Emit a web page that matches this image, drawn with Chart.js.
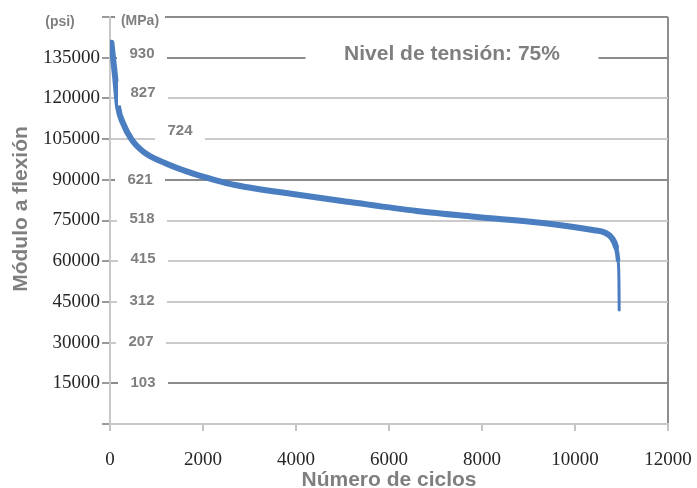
<!DOCTYPE html>
<html>
<head>
<meta charset="utf-8">
<script src="https://cdn.jsdelivr.net/npm/chart.js@4"></script>
<style>
  html, body { margin: 0; padding: 0; background: #fff; }
  #wrap { width: 697px; height: 488px; position: relative; }
</style>
</head>
<body>
<div id="wrap"><canvas id="fatigueChart"></canvas></div>
<script>
// flexural modulus (psi) vs. number of cycles
const cycles = [30, 110, 175, 280, 470, 750, 1180, 1680, 2260, 2690, 4080, 5160, 6600, 7890, 9310, 10380, 10650, 10790, 10880, 10925, 10945, 10950];
const modulusPsi = [140500, 127900, 116800, 110900, 104700, 99900, 96200, 92900, 89900, 88100, 84400, 81800, 78500, 76300, 74100, 71500, 70500, 68600, 65300, 60500, 53000, 42000];

// secondary MPa scale written next to the psi gridlines
const mpaTicks = [135000, 120000, 105000, 90000, 75000, 60000, 45000, 30000, 15000];
const mpaLabels = ['930', '827', '724', '621', '518', '415', '312', '207', '103'];

const titleText = 'Nivel de tensión: 75%';
const xTitle = 'Número de ciclos';
const yTitle = 'Módulo a flexión';

// where each MPa label sits relative to its gridline (x, y offset in px)
const mpaOffsets = [[0, -4], [1, -6], [38, -8], [-2, 0], [0, -2], [1, -2], [0, -1], [-1, -1], [1, 0]];

const darkLines = [150000, 135000, 90000, 15000];
const grey = '#7f7f7f';
const boldFont = (size) => `bold ${size}px "Liberation Sans", Arial, sans-serif`;

const overlay = {
  id: 'overlay',
  afterDatasetsDraw(chart) {
    const { ctx, scales: { y }, chartArea } = chart;
    const patch = (cx, cy, w, h) => {
      ctx.fillStyle = '#fff';
      ctx.fillRect(cx - w / 2, cy - h / 2, w, h);
    };
    ctx.save();
    ctx.textAlign = 'center';
    ctx.textBaseline = 'middle';

    // MPa labels on white patches
    ctx.font = boldFont(15);
    mpaTicks.forEach((v, i) => {
      const tx = chartArea.left + 32 + mpaOffsets[i][0];
      const ty = y.getPixelForValue(v) + mpaOffsets[i][1];
      patch(tx, ty + 1, 50, 24);
      ctx.fillStyle = grey;
      ctx.fillText(mpaLabels[i], tx, ty);
    });

    // unit headers
    ctx.font = boldFont(14);
    patch(chartArea.left + 30, chartArea.top + 3, 50, 20);
    ctx.fillStyle = grey;
    ctx.fillText('(MPa)', chartArea.left + 30, chartArea.top + 4);
    ctx.fillText('(psi)', 60, chartArea.top + 5);

    // stress level caption
    const cy = y.getPixelForValue(135000) - 3;
    patch(452, cy, 293, 30);
    ctx.font = boldFont(21);
    ctx.fillStyle = grey;
    ctx.fillText(titleText, 452, cy);

    // vertical axis title
    ctx.translate(21, 209);
    ctx.rotate(-Math.PI / 2);
    ctx.fillText(yTitle, 0, 0);
    ctx.restore();
  }
};

new Chart(document.getElementById('fatigueChart'), {
  type: 'line',
  data: {
    datasets: [{
      data: cycles.map((c, i) => ({ x: c, y: modulusPsi[i] })),
      borderColor: '#4a7ec1',
      borderWidth: 6,
      borderCapStyle: 'round',
      borderJoinStyle: 'round',
      pointRadius: 0,
      cubicInterpolationMode: 'monotone',
      segment: {
        // the final drop narrows to a thin stroke
        borderWidth: (ctx) => ctx.p0.parsed.x >= 10925 ? 3 : (ctx.p0.parsed.x >= 10880 ? 4.5 : 6)
      }
    }]
  },
  options: {
    responsive: true,
    maintainAspectRatio: false,
    animation: false,
    layout: { padding: { top: 17, right: 29, left: 0, bottom: 0 } },
    plugins: { legend: { display: false }, tooltip: { enabled: false } },
    scales: {
      x: {
        type: 'linear',
        min: 0,
        max: 12000,
        ticks: {
          stepSize: 2000,
          padding: 18,
          color: '#262626',
          font: { family: '"Liberation Serif", "Times New Roman", serif', size: 19 },
          callback: (v) => String(v)
        },
        grid: {
          color: (ctx) => ctx.tick && ctx.tick.value === 12000 ? '#8f8f8f' : 'rgba(0,0,0,0)',
          lineWidth: 2,
          tickColor: '#c4c4c4',
          tickLength: 7
        },
        border: { color: '#c8c8c8', width: 2 },
        title: {
          display: true,
          text: xTitle,
          color: grey,
          font: { family: '"Liberation Sans", Arial, sans-serif', size: 21, weight: 'bold', lineHeight: '16px' },
          padding: 0
        },
        afterFit: (scale) => {
          scale.height = 64;
          scale.paddingLeft = 0;
          scale.paddingRight = 0;
        }
      },
      y: {
        min: 0,
        max: 150000,
        ticks: {
          stepSize: 15000,
          padding: 2,
          color: '#262626',
          font: { family: '"Liberation Serif", "Times New Roman", serif', size: 19 },
          callback: (v) => (v === 0 || v === 150000) ? '' : String(v)
        },
        grid: {
          color: (ctx) => darkLines.includes(ctx.tick && ctx.tick.value) ? '#8c8c8c' : '#cacaca',
          lineWidth: 2,
          tickColor: '#9a9a9a',
          tickLength: 8
        },
        border: { color: '#c8c8c8', width: 2 },
        afterFit: (scale) => {
          scale.width = 110;
          scale.paddingTop = 0;
          scale.paddingBottom = 0;
        }
      }
    }
  },
  plugins: [overlay]
});
</script>
</body>
</html>
